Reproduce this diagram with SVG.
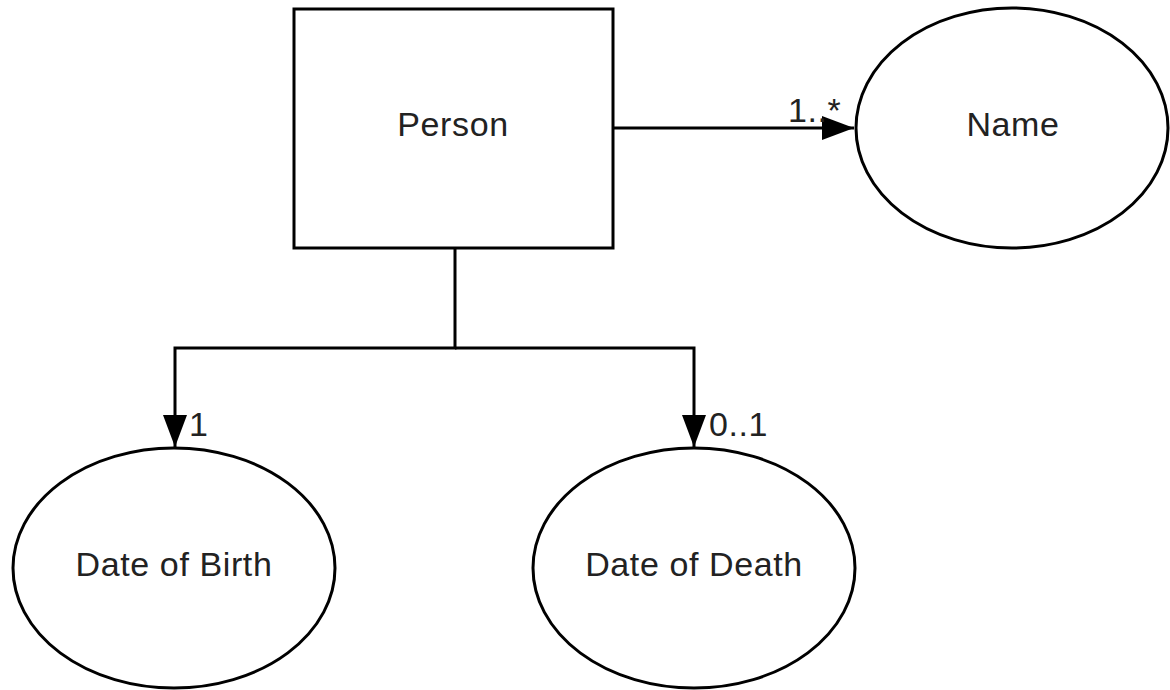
<svg xmlns="http://www.w3.org/2000/svg" width="1170" height="690" viewBox="0 0 1170 690">
<defs>
<style>
.shape{fill:#fff;stroke:#000;stroke-width:3}
.lbl{font-family:"Liberation Sans",Arial,sans-serif;font-size:34px;letter-spacing:0.6px;fill:#222;text-anchor:middle}
.card{font-family:"Liberation Sans",Arial,sans-serif;font-size:34px;letter-spacing:0.6px;fill:#222}
.conn{fill:none;stroke:#000;stroke-width:3}
</style>
<marker id="arr" markerUnits="userSpaceOnUse" markerWidth="34" markerHeight="26" refX="32" refY="12" orient="auto" viewBox="0 0 34 24">
<path d="M0,0 L32,12 L0,24 Z" fill="#000"/>
</marker>
</defs>
<rect width="1170" height="690" fill="#fff"/>
<g id="connectors">
<path class="conn" d="M613,128 L854,128" marker-end="url(#arr)"/>
<path class="conn" d="M455,248 L455,348 L175,348 L175,447" marker-end="url(#arr)"/>
<path class="conn" d="M455,348 L694,348 L694,447" marker-end="url(#arr)"/>
<text class="card" x="788" y="122">1..*</text>
<text class="card" x="189" y="436">1</text>
<text class="card" x="709" y="436">0..1</text>
</g>
<g id="person">
<rect class="shape" x="294" y="9" width="319" height="239"/>
<text class="lbl" x="453" y="136">Person</text>
</g>
<g id="name">
<ellipse class="shape" cx="1012" cy="128" rx="156" ry="120"/>
<text class="lbl" x="1013" y="136">Name</text>
</g>
<g id="dob">
<ellipse class="shape" cx="174" cy="568" rx="161" ry="120"/>
<text class="lbl" x="174" y="576">Date of Birth</text>
</g>
<g id="dod">
<ellipse class="shape" cx="694" cy="568" rx="161" ry="120"/>
<text class="lbl" x="694" y="576">Date of Death</text>
</g>
</svg>
